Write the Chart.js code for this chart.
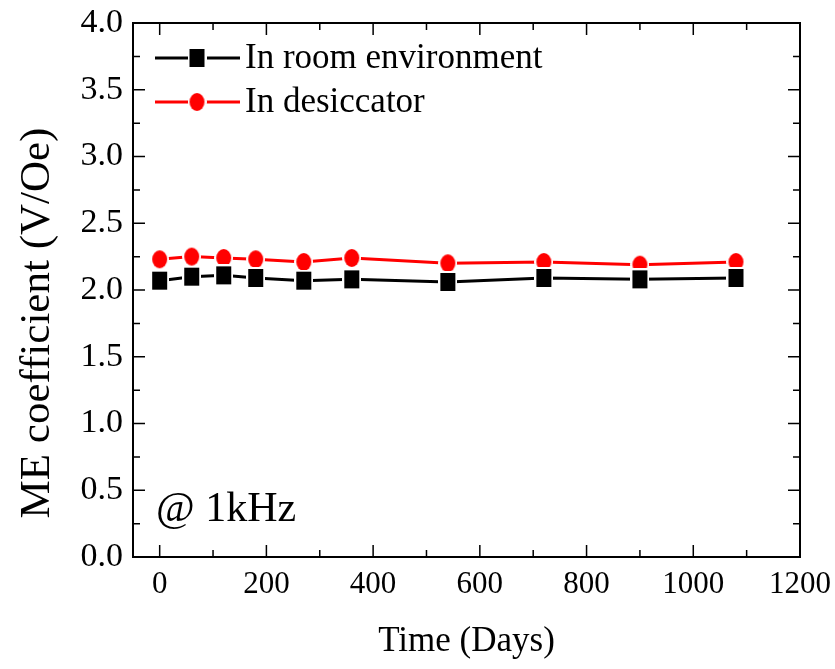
<!DOCTYPE html>
<html><head><meta charset="utf-8">
<script src="https://cdn.jsdelivr.net/npm/chart.js@4"></script>
<style>html,body{margin:0;padding:0;background:#fff}#wrap{width:835px;height:669px}</style>
</head><body><div id="wrap"><canvas id="c" width="835" height="669"></canvas></div>
<script>
const days = [0, 60, 120, 180, 270, 360, 540, 720, 900, 1080];
const roomValues = [2.07, 2.10, 2.11, 2.09, 2.07, 2.08, 2.06, 2.09, 2.08, 2.09];
const desiccatorValues = [2.23, 2.25, 2.24, 2.23, 2.21, 2.24, 2.20, 2.21, 2.19, 2.21];
const xTicks = [0, 200, 400, 600, 800, 1000, 1200];
const yTicks = [0, 0.5, 1.0, 1.5, 2.0, 2.5, 3.0, 3.5, 4.0];
const seriesNames = ['In room environment', 'In desiccator'];
const yTitle = 'ME coefficient (V/Oe)';
const note = '@ 1kHz';

const FONT = '"Liberation Serif", "Times New Roman", serif';

function markerImage(shape, color) {
  const w = 19, h = 22;
  const c = document.createElement('canvas');
  c.width = w; c.height = h;
  const g = c.getContext('2d');
  g.fillStyle = '#fff';
  if (shape === 'rect') {
    g.fillRect(0, 0, w, h);
    g.fillStyle = color;
    g.fillRect(2, 2, w - 4, h - 4);
  } else {
    g.beginPath(); g.ellipse(w / 2, h / 2, w / 2, h / 2, 0, 0, Math.PI * 2); g.fill();
    g.fillStyle = color;
    g.beginPath(); g.ellipse(w / 2, h / 2, w / 2 - 2, h / 2 - 2, 0, 0, Math.PI * 2); g.fill();
  }
  return c;
}
const squareImg = markerImage('rect', '#000');
const circleImg = markerImage('circle', '#ff0000');

const frameTicks = {
  id: 'frameTicks',
  afterDraw(chart) {
    const ctx = chart.ctx, a = chart.chartArea, xs = chart.scales.x, ys = chart.scales.y;
    ctx.save();
    ctx.strokeStyle = '#000';
    ctx.lineWidth = 2;
    ctx.strokeRect(a.left, a.top, a.right - a.left, a.bottom - a.top);
    ctx.lineWidth = 1.5;
    ctx.beginPath();
    for (let v = 0; v <= 1200; v += 100) {
      const px = xs.getPixelForValue(v);
      const len = (v % 200 === 0) ? 12 : 7;
      ctx.moveTo(px, a.bottom); ctx.lineTo(px, a.bottom - len);
      ctx.moveTo(px, a.top); ctx.lineTo(px, a.top + len);
    }
    for (let i = 0; i <= 16; i++) {
      const v = i * 0.25;
      const py = ys.getPixelForValue(v);
      const len = (i % 2 === 0) ? 12 : 7;
      ctx.moveTo(a.left, py); ctx.lineTo(a.left + len, py);
      ctx.moveTo(a.right, py); ctx.lineTo(a.right - len, py);
    }
    ctx.stroke();

    // legend
    const items = [
      {name: seriesNames[0], color: '#000', img: squareImg, y: 58},
      {name: seriesNames[1], color: '#ff0000', img: circleImg, y: 102}
    ];
    items.forEach(it => {
      ctx.strokeStyle = it.color; ctx.lineWidth = 3;
      ctx.beginPath();
      ctx.moveTo(155, it.y); ctx.lineTo(240, it.y);
      ctx.stroke();
      ctx.drawImage(it.img, 197 - it.img.width / 2, it.y - it.img.height / 2);
      ctx.fillStyle = '#000';
      ctx.font = '35px ' + FONT;
      ctx.textBaseline = 'middle';
      ctx.textAlign = 'left';
      ctx.fillText(it.name, 245, it.y + 1);
    });
    ctx.font = '42px ' + FONT;
    ctx.textBaseline = 'middle';
    ctx.fillText(note, 156, 510);

    // y axis title
    ctx.save();
    ctx.translate(38, 323);
    ctx.rotate(-Math.PI / 2);
    ctx.font = '43px ' + FONT;
    ctx.textAlign = 'center';
    ctx.textBaseline = 'middle';
    ctx.fillText(yTitle, 0, 0);
    ctx.restore();
    ctx.restore();
  }
};

new Chart(document.getElementById('c'), {
  type: 'line',
  data: {
    datasets: [
      {
        label: seriesNames[0],
        data: days.map((d, i) => ({x: d, y: roomValues[i]})),
        borderColor: '#000', backgroundColor: '#000', borderWidth: 3,
        pointStyle: squareImg, pointRadius: 10, pointHoverRadius: 10
      },
      {
        label: seriesNames[1],
        data: days.map((d, i) => ({x: d, y: desiccatorValues[i]})),
        borderColor: '#ff0000', backgroundColor: '#ff0000', borderWidth: 3,
        pointStyle: circleImg, pointRadius: 10, pointHoverRadius: 10
      }
    ]
  },
  options: {
    responsive: false,
    animation: false,
    layout: {padding: {top: 23, right: 35, left: 0, bottom: 0}},
    plugins: {legend: {display: false}, tooltip: {enabled: false}},
    scales: {
      x: {
        type: 'linear', min: -50, max: 1200,
        afterBuildTicks: s => { s.ticks = xTicks.map(v => ({value: v})); },
        afterFit: s => { s.height = 112; s.paddingLeft = 0; s.paddingRight = 0; },
        grid: {display: false, drawTicks: false},
        border: {display: false},
        ticks: {color: '#000', font: {family: FONT, size: 31}, padding: 9, maxRotation: 0, callback: v => String(v)},
        title: {display: true, text: 'Time (Days)', color: '#000', font: {family: FONT, size: 35}, padding: {top: 0, bottom: 6}}
      },
      y: {
        type: 'linear', min: 0, max: 4,
        afterBuildTicks: s => { s.ticks = yTicks.map(v => ({value: v})); },
        afterFit: s => { s.width = 133; s.paddingTop = 0; s.paddingBottom = 0; },
        grid: {display: false, drawTicks: false},
        border: {display: false},
        ticks: {color: '#000', font: {family: FONT, size: 34}, padding: 10, callback: v => Number(v).toFixed(1)},
        title: {display: false}
      }
    }
  },
  plugins: [frameTicks]
});
</script>
</body></html>
